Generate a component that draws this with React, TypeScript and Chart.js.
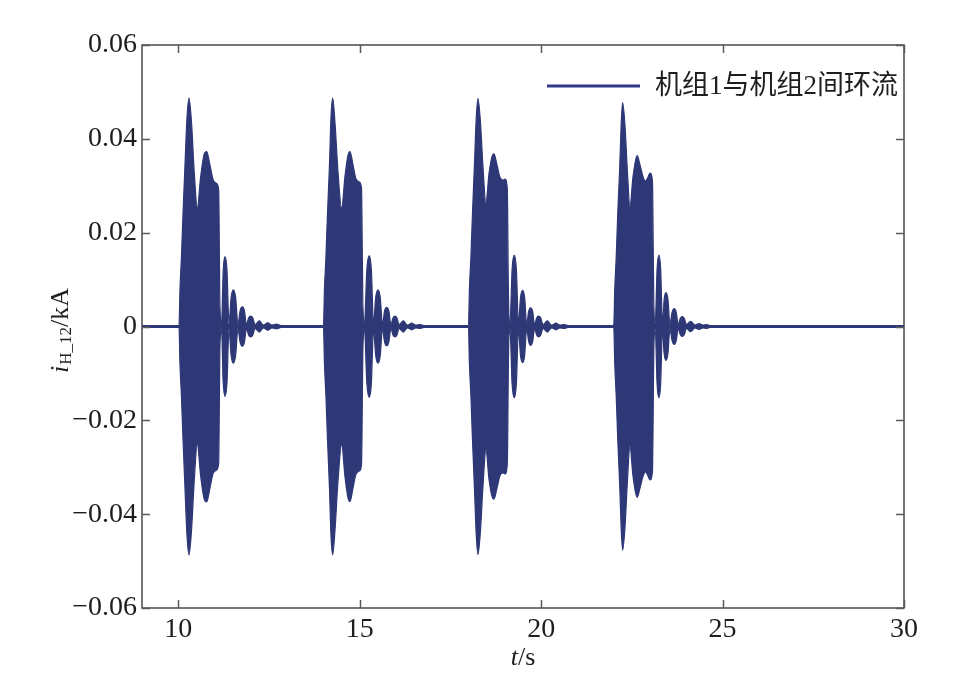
import React, { useEffect, useRef } from 'react';
import { Chart, registerables } from 'chart.js';

Chart.register(...registerables);

// ---- data (envelope of the circulating current) ----
const xTickValues = [10, 15, 20, 25, 30];
const yTickValues = [-0.06, -0.04, -0.02, 0, 0.02, 0.04, 0.06];
const legendLabel = '机组1与机组2间环流';

const envelopeTimes = [
  9.0,
  10.02, 10.047, 10.088, 10.13, 10.185, 10.24, 10.295, 10.364, 10.441, 10.524, 10.617, 10.708, 10.783, 10.874, 10.965, 11.058, 11.113, 11.149, 11.191,
  11.239, 11.287, 11.342, 11.397, 11.457, 11.516, 11.58, 11.645, 11.705, 11.764, 11.822, 11.88, 11.937, 11.995, 12.055, 12.114, 12.232, 12.348, 12.464, 12.582, 12.712, 12.83,
  14.001, 14.029, 14.07, 14.112, 14.167, 14.208, 14.255, 14.318, 14.401, 14.503, 14.594, 14.677, 14.732, 14.814, 14.897, 14.988, 15.049, 15.09, 15.131,
  15.197, 15.263, 15.321, 15.379, 15.441, 15.503, 15.565, 15.627, 15.685, 15.743, 15.802, 15.861, 15.917, 15.972, 16.027, 16.082, 16.2, 16.316, 16.432, 16.55, 16.661, 16.771,
  17.997, 18.024, 18.066, 18.107, 18.162, 18.212, 18.259, 18.328, 18.397, 18.479, 18.562, 18.645, 18.7, 18.782, 18.865, 18.948, 19.003, 19.066, 19.105, 19.141,
  19.2, 19.259, 19.317, 19.375, 19.432, 19.49, 19.545, 19.601, 19.656, 19.711, 19.766, 19.821, 19.876, 19.931, 19.99, 20.05, 20.168, 20.29, 20.408, 20.518, 20.637, 20.739,
  22.001, 22.029, 22.07, 22.111, 22.166, 22.208, 22.246, 22.309, 22.378, 22.447, 22.53, 22.613, 22.648, 22.723, 22.805, 22.874, 22.943, 22.998, 23.067, 23.108, 23.145,
  23.195, 23.246, 23.294, 23.343, 23.391, 23.439, 23.494, 23.549, 23.608, 23.668, 23.723, 23.778, 23.833, 23.888, 23.946, 24.004, 24.12, 24.238, 24.349, 24.459, 24.561, 24.652,
  30.0,
];

const envelopeUpper = [
  0.0002,
  0.0002, 0.008, 0.015, 0.024, 0.0345, 0.0445, 0.0487, 0.0435, 0.0327, 0.0253, 0.0319, 0.0366, 0.0373, 0.0344, 0.0312, 0.0305, 0.0291, 0.004, 0.0006,
  0.012, 0.0149, 0.012, 0.0006, 0.0062, 0.0078, 0.0062, 0.0005, 0.0034, 0.0042, 0.0034, 0.0004, 0.0018, 0.0022, 0.0018, 0.0004, 0.0012, 0.0003, 0.0008, 0.0003, 0.0005, 0.0002,
  0.0002, 0.008, 0.015, 0.024, 0.0345, 0.0445, 0.0487, 0.0435, 0.033, 0.0252, 0.032, 0.0365, 0.0373, 0.0345, 0.0315, 0.0308, 0.0295, 0.004, 0.0006,
  0.0121, 0.0151, 0.0121, 0.0006, 0.0062, 0.0078, 0.0062, 0.0005, 0.0033, 0.0041, 0.0033, 0.0004, 0.0018, 0.0022, 0.0018, 0.0004, 0.0012, 0.0003, 0.0007, 0.0003, 0.0004, 0.0002,
  0.0002, 0.008, 0.015, 0.024, 0.0345, 0.0445, 0.0486, 0.0435, 0.034, 0.0263, 0.0325, 0.0362, 0.0368, 0.0345, 0.0318, 0.0312, 0.0314, 0.0295, 0.004, 0.0006,
  0.0122, 0.0152, 0.0122, 0.0006, 0.0062, 0.0077, 0.0062, 0.0005, 0.0032, 0.004, 0.0032, 0.0004, 0.0018, 0.0022, 0.0018, 0.0004, 0.0012, 0.0003, 0.0007, 0.0003, 0.0004, 0.0002,
  0.0002, 0.008, 0.015, 0.024, 0.034, 0.0435, 0.0477, 0.043, 0.033, 0.0255, 0.0318, 0.0358, 0.0364, 0.0345, 0.032, 0.031, 0.0318, 0.0327, 0.031, 0.004, 0.0006,
  0.0122, 0.0152, 0.0122, 0.0006, 0.0058, 0.0072, 0.0058, 0.0005, 0.003, 0.0038, 0.003, 0.0004, 0.0017, 0.0021, 0.0017, 0.0004, 0.0011, 0.0003, 0.0006, 0.0003, 0.0004, 0.0002,
  0.0002,
];

const envelopeLower = [
  -0.0002,
  -0.0002, -0.008, -0.015, -0.024, -0.0345, -0.0445, -0.0487, -0.0435, -0.0327, -0.0251, -0.0319, -0.0366, -0.0374, -0.0344, -0.0312, -0.0306, -0.0291, -0.004, -0.0006,
  -0.012, -0.0149, -0.012, -0.0006, -0.0062, -0.0078, -0.0062, -0.0005, -0.0034, -0.0042, -0.0034, -0.0004, -0.0018, -0.0022, -0.0018, -0.0004, -0.0012, -0.0003, -0.0008, -0.0003, -0.0005, -0.0002,
  -0.0002, -0.008, -0.015, -0.024, -0.0345, -0.0445, -0.0487, -0.0435, -0.033, -0.0252, -0.032, -0.0365, -0.0373, -0.0345, -0.0315, -0.0308, -0.0295, -0.004, -0.0006,
  -0.0121, -0.0151, -0.0121, -0.0006, -0.0062, -0.0078, -0.0062, -0.0005, -0.0033, -0.0041, -0.0033, -0.0004, -0.0018, -0.0022, -0.0018, -0.0004, -0.0012, -0.0003, -0.0007, -0.0003, -0.0004, -0.0002,
  -0.0002, -0.008, -0.015, -0.024, -0.0345, -0.0445, -0.0486, -0.0435, -0.034, -0.0263, -0.0325, -0.0362, -0.0368, -0.0345, -0.0318, -0.0312, -0.0314, -0.0295, -0.004, -0.0006,
  -0.0122, -0.0152, -0.0122, -0.0006, -0.0062, -0.0077, -0.0062, -0.0005, -0.0032, -0.004, -0.0032, -0.0004, -0.0018, -0.0022, -0.0018, -0.0004, -0.0012, -0.0003, -0.0007, -0.0003, -0.0004, -0.0002,
  -0.0002, -0.008, -0.015, -0.024, -0.034, -0.0435, -0.0477, -0.043, -0.033, -0.0255, -0.0318, -0.0358, -0.0364, -0.0345, -0.032, -0.031, -0.0318, -0.0327, -0.031, -0.004, -0.0006,
  -0.0122, -0.0152, -0.0122, -0.0006, -0.0058, -0.0072, -0.0058, -0.0005, -0.003, -0.0038, -0.003, -0.0004, -0.0017, -0.0021, -0.0017, -0.0004, -0.0011, -0.0003, -0.0006, -0.0003, -0.0004, -0.0002,
  -0.0002,
];

const SERIES_COLOR = '#2e3877';
const LEGEND_COLOR = '#2e3a88';
const SERIF = "'Liberation Serif', 'Times New Roman', 'Noto Sans CJK SC', serif";
const AXIS_COLOR = '#4a4a4a';
const TEXT_COLOR = '#1e1e1e';

const decorPlugin = {
  id: 'decor',
  afterDraw(chart: any) {
    const { ctx, chartArea: a, scales } = chart;
    const xs = scales.x;
    const ys = scales.y;
    ctx.save();

    // frame
    ctx.strokeStyle = AXIS_COLOR;
    ctx.lineWidth = 1.5;
    ctx.strokeRect(a.left, a.top, a.right - a.left, a.bottom - a.top);

    // inward tick marks on all four sides
    const L = 8;
    ctx.strokeStyle = '#5a5a5a';
    ctx.lineWidth = 1.5;
    ctx.beginPath();
    xs.ticks.forEach((t: any) => {
      const px = Math.round(xs.getPixelForValue(t.value)) + 0.5;
      ctx.moveTo(px, a.bottom);
      ctx.lineTo(px, a.bottom - L);
      ctx.moveTo(px, a.top);
      ctx.lineTo(px, a.top + L);
    });
    ys.ticks.forEach((t: any) => {
      const py = Math.round(ys.getPixelForValue(t.value)) + 0.5;
      ctx.moveTo(a.left, py);
      ctx.lineTo(a.left + L, py);
      ctx.moveTo(a.right, py);
      ctx.lineTo(a.right - L, py);
    });
    ctx.stroke();

    // x axis title: t/s
    ctx.fillStyle = TEXT_COLOR;
    ctx.textBaseline = 'alphabetic';
    ctx.textAlign = 'left';
    const fI = `italic 26px ${SERIF}`;
    const fN = `26px ${SERIF}`;
    ctx.font = fI;
    const wT = ctx.measureText('t').width;
    ctx.font = fN;
    const wS = ctx.measureText('/s').width;
    const cx = (a.left + a.right) / 2;
    const x0 = cx - (wT + wS) / 2;
    const by = 665;
    ctx.font = fI;
    ctx.fillText('t', x0, by);
    ctx.font = fN;
    ctx.fillText('/s', x0 + wT, by);

    // y axis title: i_{H_12}/kA (rotated)
    ctx.save();
    ctx.translate(68, (a.top + a.bottom) / 2 + 4);
    ctx.rotate(-Math.PI / 2);
    const fSub = `17px ${SERIF}`;
    ctx.font = fI;
    const wi = ctx.measureText('i').width + 1;
    ctx.font = fSub;
    const wSub = ctx.measureText('H_12').width;
    ctx.font = fN;
    const wKA = ctx.measureText('/kA').width;
    let p = -(wi + wSub + wKA) / 2;
    ctx.font = fI;
    ctx.fillText('i', p, 0);
    p += wi;
    ctx.font = fSub;
    ctx.fillText('H_12', p, 3);
    p += wSub;
    ctx.font = fN;
    ctx.fillText('/kA', p, 0);
    ctx.restore();

    // legend
    ctx.strokeStyle = LEGEND_COLOR;
    ctx.lineWidth = 3;
    ctx.beginPath();
    ctx.moveTo(547, 86);
    ctx.lineTo(640, 86);
    ctx.stroke();
    ctx.fillStyle = TEXT_COLOR;
    ctx.font = `27px ${SERIF}`;
    ctx.textBaseline = 'middle';
    ctx.fillText(legendLabel, 655, 87);

    ctx.restore();
  },
};

export default function App() {
  const canvasRef = useRef<HTMLCanvasElement | null>(null);

  useEffect(() => {
    const canvas = canvasRef.current;
    if (!canvas) return;
    const upperPts = envelopeTimes.map((t, i) => ({ x: t, y: envelopeUpper[i] }));
    const lowerPts = envelopeTimes.map((t, i) => ({ x: t, y: envelopeLower[i] }));

    const chart = new Chart(canvas, {
      type: 'line',
      data: {
        datasets: [
          {
            label: legendLabel,
            data: upperPts,
            borderColor: SERIES_COLOR,
            backgroundColor: SERIES_COLOR,
            borderWidth: 1.2,
            pointRadius: 0,
            fill: '+1',
            cubicInterpolationMode: 'monotone',
          },
          {
            label: 'lower',
            data: lowerPts,
            borderColor: SERIES_COLOR,
            backgroundColor: SERIES_COLOR,
            borderWidth: 1.2,
            pointRadius: 0,
            fill: false,
            cubicInterpolationMode: 'monotone',
          },
        ],
      },
      options: {
        responsive: false,
        animation: false,
        events: [],
        layout: { padding: { left: 0, right: 63, top: 45, bottom: 0 } },
        plugins: {
          legend: { display: false },
          tooltip: { enabled: false },
        },
        scales: {
          x: {
            type: 'linear',
            min: 9,
            max: 30,
            afterBuildTicks: (s: any) => {
              s.ticks = xTickValues.map((v) => ({ value: v }));
            },
            afterFit: (s: any) => {
              s.height = 80;
            },
            grid: { display: false, drawTicks: false },
            border: { display: false },
            ticks: {
              autoSkip: false,
              maxRotation: 0,
              padding: 5,
              color: TEXT_COLOR,
              font: { family: SERIF, size: 28 },
              callback: (v: any) => String(v),
            },
          },
          y: {
            type: 'linear',
            min: -0.06,
            max: 0.06,
            afterBuildTicks: (s: any) => {
              s.ticks = yTickValues.map((v) => ({ value: v }));
            },
            afterFit: (s: any) => {
              s.width = 142;
            },
            grid: { display: false, drawTicks: false },
            border: { display: false },
            ticks: {
              autoSkip: false,
              padding: 5,
              color: TEXT_COLOR,
              font: { family: SERIF, size: 28 },
              callback: (v: any) => {
                const n = Number(v);
                if (Math.abs(n) < 1e-9) return '0';
                return n.toFixed(2).replace('-', '\u2212');
              },
            },
          },
        },
      },
      plugins: [decorPlugin],
    } as any);

    return () => {
      chart.destroy();
    };
  }, []);

  return (
    <div style={{ position: 'absolute', left: 0, top: 0, width: 967, height: 688, background: '#fff' }}>
      <canvas ref={canvasRef} width={967} height={688} style={{ display: 'block' }} />
    </div>
  );
}
